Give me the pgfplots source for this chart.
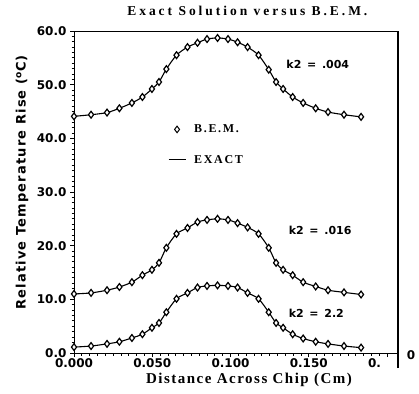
\documentclass[border=0pt]{standalone}
\usepackage{pgfplots}
\usepackage{pgfplotstable}
\pgfplotsset{compat=1.18}
\usepackage{fontspec}
\setmainfont{Liberation Serif}
\newfontfamily\dv{DejaVu Sans}
\pgfplotstableread{
x      top   mid   bot
0.0000 44.1  11.0  1.1
0.0109 44.4  11.2  1.3
0.0211 44.8  11.7  1.7
0.0290 45.6  12.3  2.1
0.0370 46.6  13.2  2.8
0.0437 47.7  14.5  3.5
0.0498 49.2  15.5  4.7
0.0543 50.5  16.8  5.6
0.0590 52.9  19.6  7.6
0.0655 55.5  22.2  10.1
0.0725 57.0  23.3  11.2
0.0789 57.8  24.4  12.2
0.0850 58.5  24.8  12.5
0.0917 58.7  25.0  12.6
0.0984 58.5  24.8  12.5
0.1045 57.9  24.2  12.2
0.1109 57.0  23.4  11.2
0.1179 55.5  22.2  10.1
0.1244 52.8  19.6  7.6
0.1291 50.5  16.8  5.6
0.1336 49.2  15.5  4.7
0.1397 47.7  14.5  3.5
0.1464 46.6  13.2  2.7
0.1544 45.6  12.4  2.1
0.1623 44.9  11.7  1.7
0.1725 44.4  11.3  1.3
0.1834 44.0  10.9  1.0
}\datatable
\begin{document}
\begin{tikzpicture}[x=1pt,y=1pt]
\path[use as bounding box] (0,0) rectangle (419,393);
\begin{axis}[
  at={(74pt,40pt)}, anchor=south west,
  scale only axis, width=324pt, height=322pt,
  xmin=0, xmax=0.207, ymin=0, ymax=60,
  xtick={0,0.05,0.1,0.15,0.2},
  xticklabels={0.000,0.050,0.100,0.150,0.\phantom{200}},
  ytick={0,10,20,30,40,50,60},
  yticklabels={0.0,10.0,20.0,30.0,40.0,50.0,60.0},
  minor x tick num=9, minor y tick num=9,
  tick align=outside, xtick pos=bottom, ytick pos=left,
  major tick length=4pt, minor tick length=2.5pt,
  tick style={black, line width=0.8pt},
  axis line style={line width=1pt},
  ticklabel style={font=\dv\bfseries\fontsize{12}{12}\selectfont},
  xticklabel style={yshift=1.5pt},
  xlabel={Distance Across Chip (Cm)},
  xlabel style={at={(axis description cs:0.54,-0.082)}, anchor=center,
    font=\bfseries\fontsize{15}{15}\selectfont\addfontfeature{LetterSpace=10}},
  ylabel={Relative Temperature Rise (\textsuperscript{o}C)},
  ylabel style={at={(axis description cs:-0.16,0.53)}, anchor=center,
    font=\dv\bfseries\fontsize{13}{13}\selectfont\addfontfeature{LetterSpace=9}},
  title={Exact Solution versus B.E.M.},
  title style={at={(axis description cs:0.535,1.043)}, anchor=center,
    font=\bfseries\fontsize{13.5}{13.5}\selectfont\addfontfeature{LetterSpace=22}},
  legend style={at={(axis description cs:0.28,0.722)}, anchor=north west,
    draw=none, fill=none, row sep=17pt, column sep=6pt,
    font=\bfseries\fontsize{12}{12}\selectfont\addfontfeature{LetterSpace=14}},
  legend cell align=left,
]
\addlegendimage{only marks, black, mark=diamond*, mark size=3.3pt, mark options={fill=white, line width=1pt}}
\addlegendentry{B.E.M.}
\addlegendimage{no marks, black, line width=1.2pt}
\addlegendentry{EXACT}
\addplot[black, line width=1.1pt, smooth, mark=diamond*, mark size=3.4pt, mark options={fill=white, line width=1.2pt, solid}] table[x=x, y=top] {\datatable};
\addplot[black, line width=1.1pt, smooth, mark=diamond*, mark size=3.4pt, mark options={fill=white, line width=1.2pt, solid}] table[x=x, y=mid] {\datatable};
\addplot[black, line width=1.1pt, smooth, mark=diamond*, mark size=3.4pt, mark options={fill=white, line width=1.2pt, solid}] table[x=x, y=bot] {\datatable};
\node[anchor=west, font=\dv\bfseries\fontsize{11}{11}\selectfont] at (axis cs:0.1335,53.8) {k2 \,=\, .004};
\node[anchor=west, font=\dv\bfseries\fontsize{11}{11}\selectfont] at (axis cs:0.135,22.9) {k2 \,=\, .016};
\node[anchor=west, font=\dv\bfseries\fontsize{11}{11}\selectfont] at (axis cs:0.135,7.45) {k2 \,=\, 2.2};
\end{axis}
\draw[line width=1.2pt] (398,25) -- (398,362);
\node[font=\dv\bfseries\fontsize{12}{12}\selectfont] at (411,38) {0};
\end{tikzpicture}
\end{document}
